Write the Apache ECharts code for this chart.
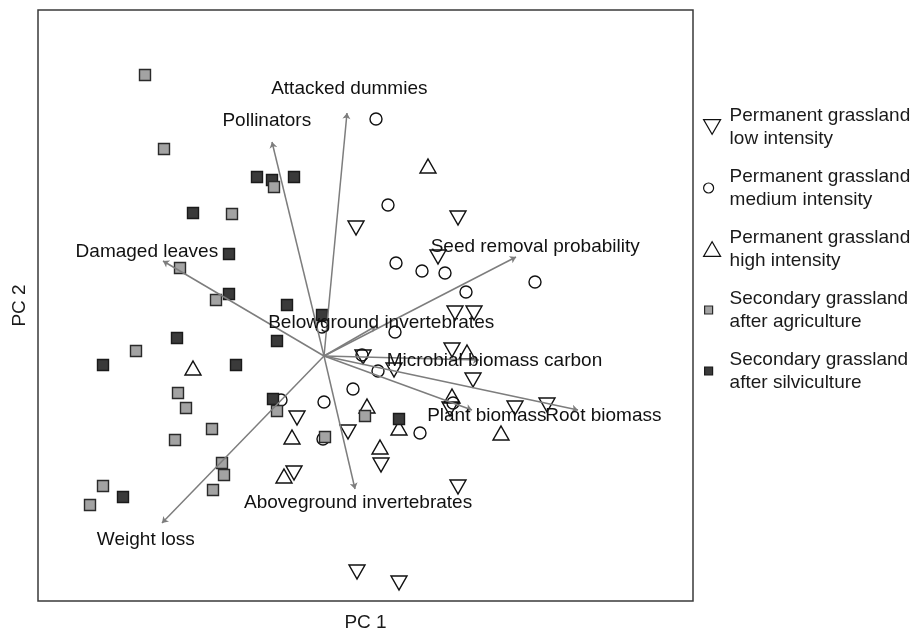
<!DOCTYPE html>
<html>
<head>
<meta charset="utf-8">
<script src="https://cdn.jsdelivr.net/npm/echarts@6/dist/echarts.min.js"></script>
<style>
  html, body { margin: 0; padding: 0; background: #fff; }
  #chart { width: 917px; height: 634px; }
</style>
</head>
<body>
<div id="chart"></div>
<script>
const FONT = '"Liberation Sans", Arial, Helvetica, sans-serif';

// Site scores [PC1, PC2] per land-use group
const lowIntensity = [
  [0.32, 1.28], [1.34, 1.38], [1.14, 0.99], [1.31, 0.43], [1.50, 0.43],
  [0.39, -0.01], [1.28, 0.06], [0.70, -0.14], [1.49, -0.24], [1.26, -0.53],
  [1.91, -0.52], [2.23, -0.49], [-0.27, -0.62], [0.24, -0.76], [-0.30, -1.17],
  [0.57, -1.09], [1.34, -1.31], [0.33, -2.16], [0.75, -2.27]
];
const mediumIntensity = [
  [0.52, 2.37], [0.64, 1.51], [0.72, 0.93], [0.98, 0.85], [1.21, 0.83],
  [2.11, 0.74], [1.42, 0.64], [0.71, 0.24], [-0.02, 0.29], [0.38, 0.01],
  [0.54, -0.15], [0.29, -0.33], [0.00, -0.46], [-0.43, -0.44], [1.29, -0.47],
  [-0.01, -0.83], [0.96, -0.77]
];
const highIntensity = [
  [1.04, 1.90], [1.43, 0.04], [-1.31, -0.12], [1.28, -0.40], [0.43, -0.50],
  [0.75, -0.72], [-0.32, -0.81], [1.77, -0.77], [0.56, -0.91], [-0.40, -1.20]
];
const afterAgriculture = [
  [-1.79, 2.81], [-1.60, 2.07], [-0.50, 1.69], [-0.92, 1.42], [-1.44, 0.88],
  [-1.08, 0.56], [-1.88, 0.05], [-1.46, -0.37], [-1.38, -0.52], [-0.47, -0.55],
  [-1.12, -0.73], [-1.49, -0.84], [0.41, -0.60], [0.01, -0.81], [-1.02, -1.07],
  [-1.00, -1.19], [-1.11, -1.34], [-2.21, -1.30], [-2.34, -1.49]
];
const afterSilviculture = [
  [-0.67, 1.79], [-0.52, 1.76], [-0.30, 1.79], [-1.31, 1.43], [-0.95, 1.02],
  [-0.95, 0.62], [-0.37, 0.51], [-0.02, 0.41], [-1.47, 0.18], [-0.47, 0.15],
  [-2.21, -0.09], [-0.88, -0.09], [-0.51, -0.43], [0.75, -0.63], [-2.01, -1.41]
];

// Variable loadings (arrow tips)
const loadingNames = [
  'Attacked dummies', 'Pollinators', 'Damaged leaves', 'Seed removal probability',
  'Belowground invertebrates', 'Microbial biomass carbon', 'Plant biomass',
  'Root biomass', 'Aboveground invertebrates', 'Weight loss'
];
const loadingPC1 = [0.23, -0.52, -1.61, 1.92, 0.52, 1.55, 1.48, 2.54, 0.31, -1.62];
const loadingPC2 = [2.43, 2.14, 0.95, 0.99, 0.30, -0.04, -0.54, -0.54, -1.33, -1.67];
const labelScale = 1.1;

const groupNames = [
  'Permanent grassland\nlow intensity',
  'Permanent grassland\nmedium intensity',
  'Permanent grassland\nhigh intensity',
  'Secondary grassland\nafter agriculture',
  'Secondary grassland\nafter silviculture'
];

const pc1Range = [-2.86, 3.69];
const pc2Range = [-2.45, 3.46];

// Legend keys, drawn in a 17x15 box (the leading moves pin the box size)
const keyBox = 'path://M0,0 M17,15 ';
const legendIcons = [
  'path://M1,1 L16,1 L8.5,14 Z',
  keyBox + 'M10,7.5 A5,5 0 0 1 0,7.5 A5,5 0 0 1 10,7.5 Z',
  'path://M1,14 L16,14 L8.5,1 Z',
  keyBox + 'M1,3.5 L9,3.5 L9,11.5 L1,11.5 Z',
  keyBox + 'M1,3.5 L9,3.5 L9,11.5 L1,11.5 Z'
];

const openStyle = { color: 'rgba(255,255,255,0)', borderColor: '#111', borderWidth: 1.4, opacity: 1 };

const chart = echarts.init(document.getElementById('chart'), null, { renderer: 'canvas' });

const scatterBase = { type: 'scatter', silent: true, emphasis: { disabled: true }, animation: false };

chart.setOption({
  backgroundColor: '#fff',
  animation: false,
  grid: {
    left: 38, right: 224, top: 10, bottom: 33,
    outerBoundsMode: 'none', containLabel: false,
    show: true, borderColor: '#3a3a3a', borderWidth: 1.5, backgroundColor: 'transparent'
  },
  xAxis: {
    type: 'value', min: pc1Range[0], max: pc1Range[1],
    name: 'PC 1', nameLocation: 'middle', nameGap: 12,
    nameTextStyle: { fontSize: 19, color: '#1a1a1a', fontFamily: FONT },
    axisLine: { show: false }, axisTick: { show: false },
    axisLabel: { show: false }, splitLine: { show: false }
  },
  yAxis: {
    type: 'value', min: pc2Range[0], max: pc2Range[1],
    name: 'PC 2', nameLocation: 'middle', nameGap: 9, nameRotate: 90,
    nameTextStyle: { fontSize: 19, color: '#1a1a1a', fontFamily: FONT },
    axisLine: { show: false }, axisTick: { show: false },
    axisLabel: { show: false }, splitLine: { show: false }
  },
  legend: {
    orient: 'vertical', left: 703, top: 104, padding: 0, itemGap: 15,
    itemWidth: 17, itemHeight: 15,
    selectedMode: false,
    itemStyle: { borderWidth: 1.2 },
    data: groupNames.map((n, i) => ({ name: n, icon: legendIcons[i] })),
    textStyle: { fontSize: 19, lineHeight: 23, color: '#1a1a1a', fontFamily: FONT, padding: [0, 0, 0, 4] }
  },
  series: [
    Object.assign({}, scatterBase, {
      name: groupNames[0], data: lowIntensity,
      symbol: 'triangle', symbolRotate: 180, symbolSize: [16, 14],
      itemStyle: openStyle, z: 2
    }),
    Object.assign({}, scatterBase, {
      name: groupNames[1], data: mediumIntensity,
      symbol: 'circle', symbolSize: 12,
      itemStyle: openStyle, z: 2
    }),
    Object.assign({}, scatterBase, {
      name: groupNames[2], data: highIntensity,
      symbol: 'triangle', symbolSize: [16, 14],
      itemStyle: openStyle, z: 2
    }),
    Object.assign({}, scatterBase, {
      name: groupNames[4], data: afterSilviculture,
      symbol: 'rect', symbolSize: 11,
      itemStyle: { color: '#3a3a3a', borderColor: '#1a1a1a', borderWidth: 1.4, opacity: 1 }, z: 2
    }),
    Object.assign({}, scatterBase, {
      name: groupNames[3], data: afterAgriculture,
      symbol: 'rect', symbolSize: 11,
      itemStyle: { color: '#a3a3a3', borderColor: '#2a2a2a', borderWidth: 1.4, opacity: 1 }, z: 2
    }),
    {
      type: 'lines', coordinateSystem: 'cartesian2d', polyline: false, silent: true,
      symbol: ['none', 'arrow'], symbolSize: 6,
      lineStyle: { color: '#7d7d7d', width: 1.5, opacity: 1, curveness: 0 },
      data: loadingNames.map((n, i) => ({ name: n, coords: [[0, 0], [loadingPC1[i], loadingPC2[i]]] })),
      z: 3, animation: false
    },
    Object.assign({}, scatterBase, {
      name: 'loadingLabels', data: loadingNames.map((n, i) => ({
        name: n, value: [loadingPC1[i] * labelScale, loadingPC2[i] * labelScale]
      })),
      symbolSize: 1, itemStyle: { color: 'rgba(0,0,0,0)', opacity: 1 },
      label: {
        show: true, position: 'inside', formatter: '{b}', fontSize: 19,
        color: '#111', opacity: 1, textBorderWidth: 0, fontFamily: FONT
      },
      labelLayout: { hideOverlap: false },
      z: 4
    })
  ]
});
</script>
</body>
</html>
